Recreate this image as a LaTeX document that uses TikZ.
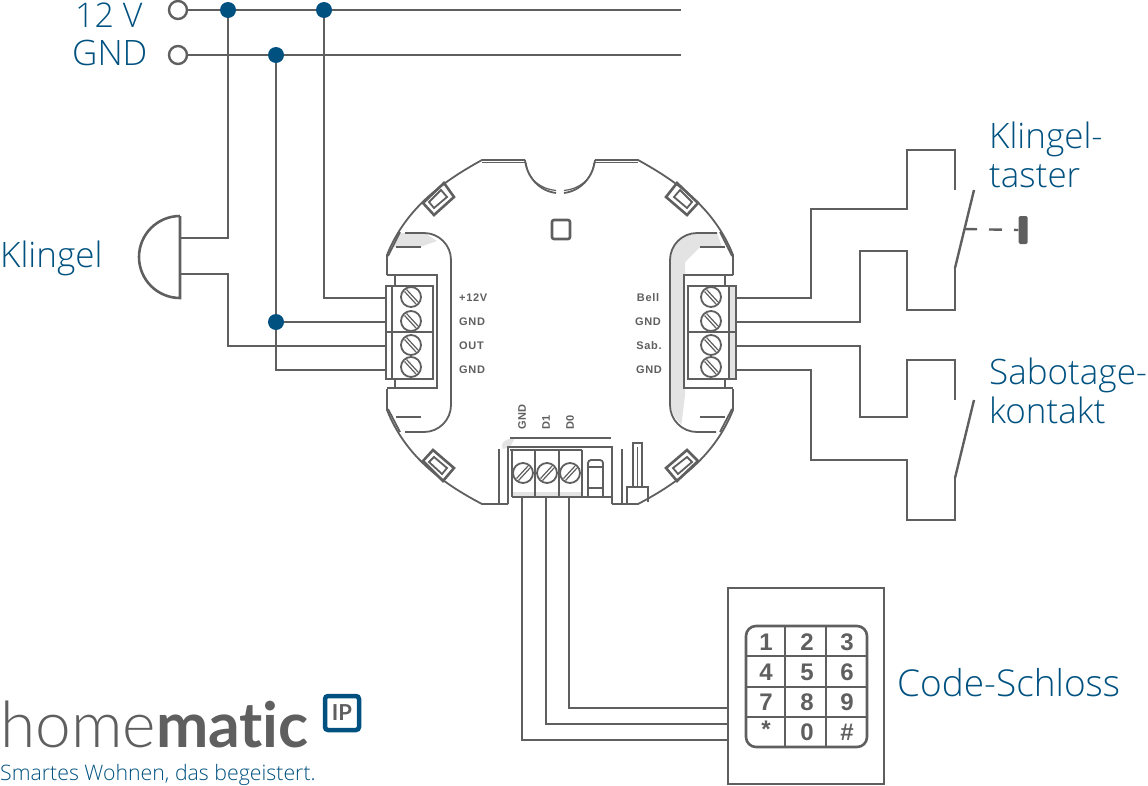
\documentclass[tikz,border=0pt]{standalone}
\usepackage{fontspec}
\setmainfont[Ligatures=NoCommon]{Lato}
\newfontfamily\lbl{Open Sans Light}
\newfontfamily\lgl[Ligatures=NoCommon]{Lato Light}
\newfontfamily\arial[LetterSpace=6]{Liberation Sans}
\newfontfamily\arialk{Liberation Sans}
\definecolor{hmblue}{HTML}{00517F}
\definecolor{hmgray}{HTML}{5F5F5F}
\definecolor{hmfill}{HTML}{E3E3E3}
\newcommand\screwb[2]{%
  \draw[thin part] (#1,#2) circle[radius=10];
  \draw[slot] (#1-6.5,#2-5.5) -- (#1+5,#2+7) (#1-4.5,#2-7.5) -- (#1+7,#2+5);}
\newcommand\screwc[2]{%
  \draw[thin part] (#1,#2) circle[radius=10];
  \draw[slot] (#1-6.5,#2+5.5) -- (#1+5,#2-7) (#1-4.5,#2+7.5) -- (#1+7,#2-5);}
\tikzset{
  wire/.style={draw=hmgray,line width=2.4pt,line join=miter},
  thin part/.style={draw=hmgray,line width=1.8pt},
  thick part/.style={draw=hmgray,line width=2.6pt},
  slot/.style={draw=hmgray,line width=1.2pt},
  junction/.style={circle,fill=hmblue,inner sep=0pt,minimum size=16pt},
  terminal/.style={circle,draw=hmgray,fill=white,line width=2.4pt,inner sep=0pt,minimum size=18pt},
  biglabel/.style={text=hmblue,font=\lbl\fontsize{35}{40}\selectfont,inner sep=0pt,align=left},
  pinlabel/.style={text=hmgray,font=\arial\bfseries\fontsize{11}{12}\selectfont,inner sep=0pt},
  keylabel/.style={text=hmgray,font=\arialk\bfseries\fontsize{24}{26}\selectfont,inner sep=0pt},
}
\begin{document}
\begin{tikzpicture}[x=1pt,y=-1pt]
\useasboundingbox (0,0) rectangle (1148,785);

% ---- module: gray fills
\fill[hmfill] (717,233) -- (697,233) arc[start angle=270,end angle=180,radius=27] -- (670,400) arc[start angle=180,end angle=130,radius=32] -- (685,395) -- (685,262) -- (700,247) -- (722,247) -- cycle;
\fill[hmfill] (405,233) -- (398,233) -- (392,247) -- (420,247) -- (437,241) -- (425,233) -- cycle;
\fill[hmfill] (512,492) rectangle (582,497);
\fill[hmfill] (503,449) .. controls (499,442) and (508,438) .. (515,438) -- (510,447) -- cycle;

% ---- module: outline
\draw[thin part] (525,160) -- (482,160) .. controls (440,183) and (405,210) .. (387,255) -- (387,275);
\draw[thin part,line width=1.2pt] (482,162.5) -- (525,162.5);
\draw[thin part] (525,160) .. controls (527,178) and (540,191) .. (556,193);
\draw[thin part,line width=1.2pt] (526,163) .. controls (528,180) and (541,189) .. (556,190.5);
\draw[thin part] (595,160) .. controls (593,178) and (580,191) .. (564,193);
\draw[thin part,line width=1.2pt] (594,163) .. controls (592,180) and (579,189) .. (564,190.5);
\draw[thin part] (595,160) -- (638,160) .. controls (680,183) and (715,210) .. (733,255) -- (733,275);
\draw[thin part,line width=1.2pt] (595,162.5) -- (638,162.5);
\draw[thin part] (387,389) -- (387,410) .. controls (405,455) and (440,482) .. (482,504) -- (508,504);
\draw[thin part] (733,389) -- (733,410) .. controls (715,455) and (680,482) .. (638,504) -- (612,504);
\draw[thin part] (400,232) -- (388,256);
\draw[thin part] (720,232) -- (732,256);
\draw[thin part] (400,432) -- (388,409);
\draw[thin part] (720,432) -- (732,409);
\draw[thick part,rounded corners=2pt] (552,220) rectangle (570,239);

% inner bays
\draw[thin part] (405,233) -- (424,233) arc[start angle=270,end angle=360,radius=27] -- (451,405) arc[start angle=0,end angle=90,radius=27] -- (405,432);
\draw[thin part] (717,233) -- (697,233) arc[start angle=270,end angle=180,radius=27] -- (670,405) arc[start angle=180,end angle=90,radius=27] -- (716,432);
\draw[thin part] (396,247) -- (421,247) (396,417) -- (421,417);
\draw[thin part] (700,247) -- (725,247) (700,417) -- (725,417);

% clips
\draw[thick part] (444,183) -- (454,197) -- (434,215) -- (423,203) -- cycle;
\draw[thin part] (441,190) -- (447,197) -- (434,208) -- (429,202) -- cycle;
\draw[thick part] (677,183) -- (698,203) -- (687,215) -- (666,197) -- cycle;
\draw[thin part] (680,190) -- (692,202) -- (687,208) -- (674,197) -- cycle;
\draw[thick part] (433,450) -- (454,468) -- (443,481) -- (423,461) -- cycle;
\draw[thin part] (434,457) -- (447,468) -- (442,474) -- (429,462) -- cycle;
\draw[thick part] (687,450) -- (698,461) -- (677,481) -- (666,468) -- cycle;
\draw[thin part] (687,457) -- (692,462) -- (678,474) -- (673,468) -- cycle;

% left terminal block
\draw[thick part] (387,275) -- (437,275) -- (437,388) -- (387,388);
\draw[thick part] (395,275) -- (395,286) (395,379) -- (395,388);
\draw[thin part,fill=white] (386,286) rectangle (433,379);
\draw[thin part] (392,286) -- (392,379) (386,332) -- (433,332);
\foreach \y in {297,321,345,367} {\screwb{411}{\y}}
% right terminal block
\draw[thick part] (733,275) -- (684,275) -- (684,388) -- (733,388);
\draw[thick part] (725,275) -- (725,286) (725,379) -- (725,388);
\draw[thin part,fill=white] (688,286) rectangle (736,379);
\fill[hmfill] (729,286) rectangle (736,379);
\draw[thin part] (688,286) rectangle (736,379);
\draw[thin part] (729,286) -- (729,379) (688,332) -- (736,332);
\foreach \y in {297,321,345,367} {\screwb{711}{\y}}
% bottom terminal block
\draw[thick part] (508,504) -- (508,447) -- (612,447) -- (612,504);
\draw[thin part] (512,450) -- (512,497) (512,497) -- (612,497) (535,450) -- (535,497) (559,450) -- (559,497) (582,450) -- (582,497);
\draw[thin part] (510,450) -- (582,450);
\screwc{523}{473}\screwc{547}{473}\screwc{570}{473}
\draw[thin part,rounded corners=3pt] (588,497) -- (588,460) -- (603,460) -- (603,497);
\draw[thin part] (588,467) -- (603,467) (588,488) -- (603,488);
\draw[thin part] (499,449) -- (499,504) (622,449) -- (622,504);
\draw[thin part] (510,438) -- (611,438);
\draw[thick part] (633,487) -- (633,443) -- (642,443) -- (642,487);
\draw[thin part] (637.5,447) -- (637.5,487);
\draw[thick part] (627,504) -- (627,487) -- (648,487) -- (648,502);

% pin labels
\node[pinlabel,anchor=west] at (459,298) {+12V};
\node[pinlabel,anchor=west] at (459,322) {GND};
\node[pinlabel,anchor=west] at (459,346) {OUT};
\node[pinlabel,anchor=west] at (459,370) {GND};
\node[pinlabel] at (648,298) {Bell};
\node[pinlabel] at (648,322) {GND};
\node[pinlabel] at (649,346) {Sab.};
\node[pinlabel] at (649,370) {GND};
\node[pinlabel,rotate=90,anchor=west] at (522,430) {GND};
\node[pinlabel,rotate=90,anchor=west] at (546,430) {D1};
\node[pinlabel,rotate=90,anchor=west] at (570,430) {D0};

% named connection points
\coordinate (t12) at (385,298);
\coordinate (tg1) at (385,322);
\coordinate (tout) at (385,346);
\coordinate (tg2) at (385,370);
\coordinate (bell) at (736,298);
\coordinate (rg1) at (736,322);
\coordinate (sab) at (736,346);
\coordinate (rg2) at (736,370);
\coordinate (bgnd) at (522,497);
\coordinate (bd1) at (546,497);
\coordinate (bd0) at (569,497);
\coordinate (end12) at (681,10);
\coordinate (endg) at (681,55);

% supply rails
\node[terminal] (p12) at (178,10) {};
\node[terminal] (pg) at (178,55) {};
\draw[wire] (p12) -- (end12);
\draw[wire] (pg) -- (endg);
\node[junction] (j1) at (228,10) {};
\node[junction] (j2) at (324,10) {};
\node[junction] (j3) at (276,55) {};
\node[junction] (j4) at (276,322) {};

% bell
\draw[thick part] (180,216) -- (180,298) arc[start angle=90,end angle=270,radius=41];
\coordinate (bt) at (180,238);
\coordinate (bb) at (180,274);
\draw[wire] (j1) -- (228,238) -- (bt);
\draw[wire] (bb) -- (228,274) -- (228,346) -- (tout);
\draw[wire] (j2) -- (324,298) -- (t12);
\draw[wire] (j3) -- (j4);
\draw[wire] (j4) -- (tg1);
\draw[wire] (j4) -- (276,370) -- (tg2);

% doorbell button
\coordinate (ka) at (955,190);
\coordinate (kb) at (955,268);
\coordinate (ktip) at (974,190);
\draw[wire] (bell) -- (811,298) -- (811,209) -- (907,209) -- (907,150) -- (955,150) -- (ka);
\draw[wire] (rg1) -- (860,322) -- (860,251) -- (907,251) -- (907,310) -- (955,310) -- (kb);
\draw[wire] (kb) -- (ktip);
\node[fill=hmgray,rounded corners=1.5pt,minimum width=9pt,minimum height=28pt,inner sep=0pt] (act) at (1023,230) {};
\draw[wire,dash pattern=on 13pt off 12pt] (964,229) -- (act.west);

% tamper contact
\coordinate (sa) at (955,400);
\coordinate (sb) at (955,478);
\coordinate (stip) at (974,400);
\draw[wire] (sab) -- (860,346) -- (860,417) -- (907,417) -- (907,360) -- (955,360) -- (sa);
\draw[wire] (rg2) -- (811,370) -- (811,460) -- (907,460) -- (907,520) -- (955,520) -- (sb);
\draw[wire] (sb) -- (stip);

% code lock
\node[draw=hmgray,line width=2.6pt,minimum width=156pt,minimum height=196pt,inner sep=0pt] (lock) at (806,686) {};
\draw[wire] (bgnd) -- (522,740) -- (lock.west |- 0,740);
\draw[wire] (bd1) -- (546,724) -- (lock.west |- 0,724);
\draw[wire] (bd0) -- (569,708) -- (lock.west |- 0,708);
\draw[thick part,rounded corners=10pt] (746,626) rectangle (867,747);
\draw[thin part,line width=2pt] (785,626) -- (785,747) (826,626) -- (826,747) (746,656) -- (867,656) (746,687) -- (867,687) (746,717) -- (867,717);
\node[keylabel] at (766,642) {1};
\node[keylabel] at (807,642) {2};
\node[keylabel] at (847,642) {3};
\node[keylabel] at (766,672) {4};
\node[keylabel] at (807,672) {5};
\node[keylabel] at (847,672) {6};
\node[keylabel] at (766,702) {7};
\node[keylabel] at (807,702) {8};
\node[keylabel] at (847,702) {9};
\node[keylabel] at (766,729) {*};
\node[keylabel] at (807,732) {0};
\node[keylabel] at (847,732) {\#};

% labels
\node[biglabel,anchor=base west,font=\lbl\fontsize{34}{40}\selectfont] at (75,27) {12 V};
\node[biglabel,anchor=base west] at (72,65) {GND};
\node[biglabel,anchor=base west] at (0,267) {Klingel};
\node[biglabel,anchor=base west] at (989,148) {Klingel-};
\node[biglabel,anchor=base west] at (989,187) {taster};
\node[biglabel,anchor=base west] at (989,384) {Sabotage-};
\node[biglabel,anchor=base west] at (989,423) {kontakt};
\node[biglabel,anchor=base west,font=\lbl\fontsize{37}{40}\selectfont] at (897,696) {Code-Schloss};

% logo
\node[anchor=base west,inner sep=0pt,text=hmgray] at (0,747) {{\lgl\fontsize{64}{70}\selectfont home}{\fontsize{62.5}{70}\selectfont\bfseries matic}};
\node[anchor=base west,inner sep=0pt,text=hmblue,font=\lbl\fontsize{21.3}{24}\selectfont] at (0,780) {Smartes Wohnen, das begeistert.};
\node[draw=hmblue,line width=4.5pt,rounded corners=3pt,minimum width=34pt,minimum height=34pt,inner sep=0pt,text=hmgray,font=\bfseries\fontsize{22}{24}\selectfont] (ip) at (342,713) {IP};
\end{tikzpicture}
\end{document}
